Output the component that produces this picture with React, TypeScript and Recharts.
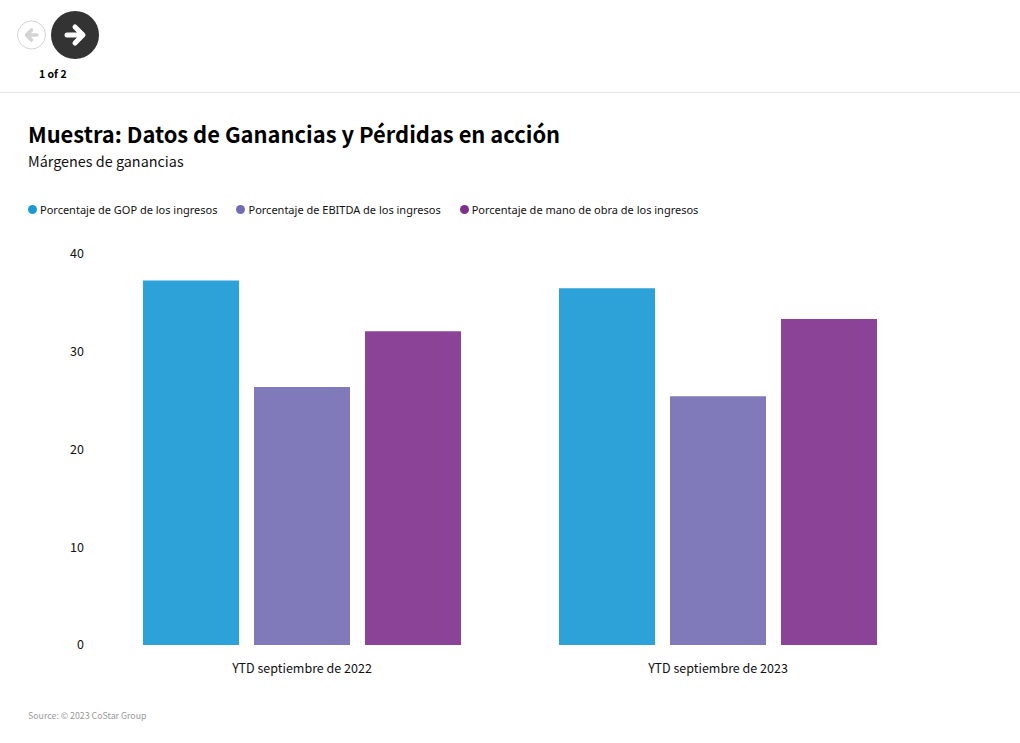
import { BarChart, Bar, XAxis, YAxis, Legend } from "recharts";

const categories = ["YTD septiembre de 2022", "YTD septiembre de 2023"];
const gopValues = [37.3, 36.5];
const ebitdaValues = [26.4, 25.45];
const laborValues = [32.1, 33.35];
const yTicks = [0, 10, 20, 30, 40];

const GOP_NAME = "Porcentaje de GOP de los ingresos";
const EBITDA_NAME = "Porcentaje de EBITDA de los ingresos";
const LABOR_NAME = "Porcentaje de mano de obra de los ingresos";

const FONT = '"Noto Sans CJK JP", "Noto Sans", sans-serif';

const chartData = categories.map((name, i) => ({
  name,
  gop: gopValues[i],
  ebitda: ebitdaValues[i],
  labor: laborValues[i],
}));

const LegendRow = ({ payload }: any) => (
  <div style={{ display: "flex", gap: 19, alignItems: "center", fontFamily: '"Noto Sans", sans-serif', fontSize: 11, color: "#111" }}>
    {(payload || []).map((p: any) => (
      <div key={p.value} style={{ display: "flex", alignItems: "center", gap: 3 }}>
        <span style={{ width: 9, height: 9, borderRadius: "50%", background: p.color, display: "inline-block" }} />
        <span>{p.value}</span>
      </div>
    ))}
  </div>
);

const NavButtons = () => (
  <svg width={110} height={62} style={{ position: "absolute", left: 0, top: 0 }}>
    <circle cx={31.5} cy={35} r={14} fill="#fff" stroke="#d4d4d4" />
    <path d="M37 35H27M31.5 30L26.5 35L31.5 40" fill="none" stroke="#d4d4d4" strokeWidth={3.6} strokeLinecap="round" strokeLinejoin="round" />
    <circle cx={75} cy={35} r={24} fill="#333" />
    <path d="M67 35H81M75 27L83 35L75 43" fill="none" stroke="#fff" strokeWidth={5} strokeLinecap="round" strokeLinejoin="round" />
  </svg>
);

export default function App() {
  return (
    <div style={{ position: "absolute", left: 0, top: 0, width: 1020, height: 743, background: "#fff", fontFamily: FONT, overflow: "hidden" }}>
      <NavButtons />
      <div style={{ position: "absolute", left: 39, top: 66, fontSize: 10.5, fontWeight: 700, color: "#000", lineHeight: "16px" }}>1 of 2</div>
      <div style={{ position: "absolute", left: 0, top: 92, width: 1020, height: 1, background: "#e6e6e6" }} />
      <div style={{ position: "absolute", left: 28, top: 117, fontSize: 21.9, fontWeight: 700, color: "#000", lineHeight: "34px" }}>
        Muestra: Datos de Ganancias y Pérdidas en acción
      </div>
      <div style={{ position: "absolute", left: 28, top: 150, fontSize: 14.4, color: "#111", lineHeight: "22px" }}>Márgenes de ganancias</div>
      <div style={{ position: "absolute", left: 0, top: 0 }}>
        <BarChart width={1020} height={743} data={chartData} barSize={96} barGap={15} margin={{ top: 236, right: 94, bottom: 68, left: 44 }}>
          <XAxis dataKey="name" axisLine={false} tickLine={false} tickMargin={13} tick={{ fontSize: 12.5, fill: "#111", fontFamily: FONT }} />
          <YAxis width={50} domain={[0, 40]} ticks={yTicks} axisLine={false} tickLine={false} tickMargin={4} tick={{ fontSize: 12.5, fill: "#111", fontFamily: FONT }} />
          <Legend content={<LegendRow />} itemSorter={null} verticalAlign="top" align="left" wrapperStyle={{ position: "absolute", left: 28, top: 202, width: 800, height: 18 }} />
          <Bar dataKey="gop" name={GOP_NAME} fill="#1b9ad6" fillOpacity={0.92} isAnimationActive={false} />
          <Bar dataKey="ebitda" name={EBITDA_NAME} fill="#736cb2" fillOpacity={0.9} isAnimationActive={false} />
          <Bar dataKey="labor" name={LABOR_NAME} fill="#7d2f8c" fillOpacity={0.9} isAnimationActive={false} />
        </BarChart>
      </div>
      <div style={{ position: "absolute", left: 28, top: 708, fontSize: 8.8, color: "#999", lineHeight: "15px" }}>Source: © 2023 CoStar Group</div>
    </div>
  );
}
